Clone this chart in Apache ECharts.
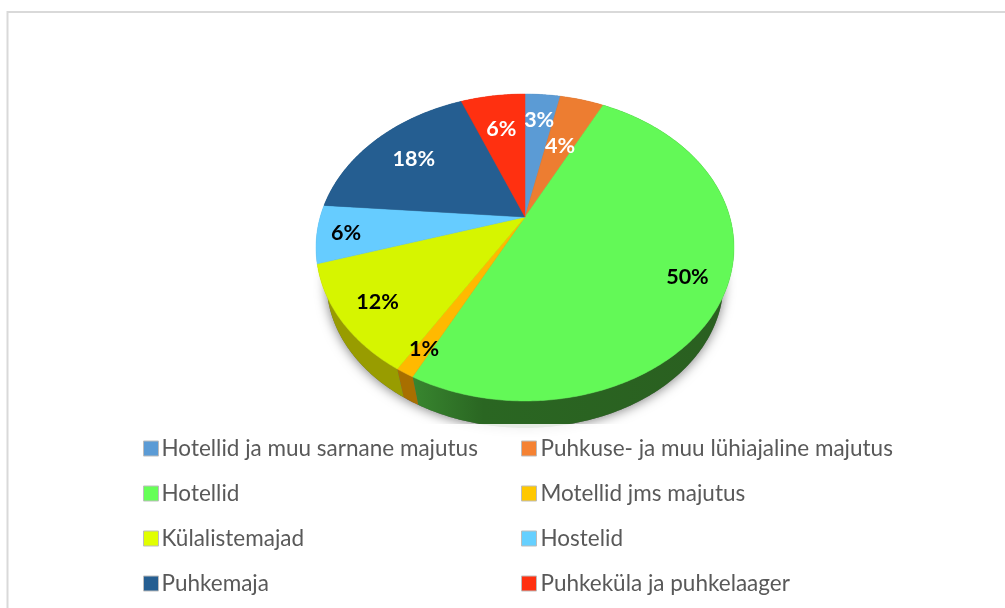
<!DOCTYPE html>
<html><head><meta charset="utf-8">
<style>html,body{margin:0;padding:0;background:#fff}#c{width:1005px;height:608px}</style>
<script src="https://cdn.jsdelivr.net/npm/echarts@6/dist/echarts.min.js"></script>
</head><body><div id="c"></div>
<script>
const categories = ['Hotellid ja muu sarnane majutus','Puhkuse- ja muu lühiajaline majutus','Hotellid','Motellid jms majutus','Külalistemajad','Hostelid','Puhkemaja','Puhkeküla ja puhkelaager'];
const shares = [3.3,4.1,50,1.2,11.5,6.1,17.7,6.0];
const faceColors = ['#5b9bd5','#ed7d31','#63f957','#ffb900','#d6f500','#66ccff','#255e91','#ff3010'];
const legendColors = ['#5b9bd5','#f58233','#66ff57','#ffc800','#e1ff00','#66d0ff','#255e91','#ff3010'];
const sideColors = ['#3c6d99','#a8581f','#2a6420','#a86f00','#989c00','#4a96ba','#1a4368','#b02008'];
const labelColors = ['#fff','#fff','#000','#000','#000','#000','#fff','#fff'];
const labelRadii = [.77,.575,.823,.864,.823,.862,.734,.70];

// perspective projection of the pie disc
const P = {x0:525,y0:217,a:147.4,b:204.8,k:.1987,depth:36,shrink:.95};
function proj(theta,r,lower){
  const u=Math.sin(theta)*r, v=Math.cos(theta)*r, w=1+P.k*v, s=lower?P.shrink:1;
  return [P.x0+s*P.b*u/w, P.y0+(lower?P.depth:0)-s*P.a*v/w];
}
function arc(t0,t1,lower){
  const n=Math.max(2,Math.ceil(Math.abs(t1-t0)/0.01)),pts=[];
  for(let i=0;i<=n;i++)pts.push(proj(t0+(t1-t0)*i/n,1,lower));
  return pts;
}
const total = shares.reduce((a,b)=>a+b,0);
let cum=0;
const series=[];
// shadow under the pie
series.push({type:'custom',coordinateSystem:'none',silent:true,z:1,data:[[0]],renderItem(){
  return {type:'polygon',shape:{points:arc(0,Math.PI*2,true)},
    style:{fill:'#666',shadowBlur:12,shadowColor:'rgba(0,0,0,.5)',shadowOffsetY:1}};
}});
shares.forEach((val,i)=>{
  const start=cum; cum+=val;
  series.push({type:'custom',name:categories[i],coordinateSystem:'none',silent:true,z:2,
    itemStyle:{color:legendColors[i]},
    data:[[start,val]],
    renderItem(p,api){
      const t0=api.value(0)/total*Math.PI*2, t1=(api.value(0)+api.value(1))/total*Math.PI*2;
      const top=arc(t0,t1,false), low=arc(t0,t1,true).reverse();
      const grad = i===2
        ? new echarts.graphic.LinearGradient(0,0,1,0,[{offset:0,color:'#38862f'},{offset:.22,color:'#2a6622'},{offset:1,color:'#2a5f20'}])
        : sideColors[i];
      return {type:'polygon',z2:0,shape:{points:top.concat(low)},style:{fill:grad}};
    }});
});
cum=0;
shares.forEach((val,i)=>{
  const start=cum; cum+=val;
  series.push({type:'custom',coordinateSystem:'none',silent:true,z:3,
    data:[[start,val]],
    renderItem(p,api){
      const t0=api.value(0)/total*Math.PI*2, t1=(api.value(0)+api.value(1))/total*Math.PI*2;
      return {type:'polygon',shape:{points:[[P.x0,P.y0]].concat(arc(t0,t1,false))},
        style:{fill:faceColors[i],stroke:faceColors[i],lineWidth:.5}};
    }});
});
cum=0;
shares.forEach((val,i)=>{
  const start=cum; cum+=val;
  series.push({type:'custom',coordinateSystem:'none',silent:true,z:6,
    data:[[start,val]],
    renderItem(p,api){
      const mid=(api.value(0)+api.value(1)/2)/total*Math.PI*2;
      const c=proj(mid,labelRadii[i],false);
      return {type:'text',x:c[0],y:c[1]+1.5,style:{text:Math.round(api.value(1))+'%',
        fill:labelColors[i],font:'bold 21.5px Lato, "Open Sans", sans-serif',align:'center',verticalAlign:'middle'}};
    }});
});
const legendBase={orient:'vertical',icon:'rect',itemWidth:15,itemHeight:15,itemGap:22,selectedMode:false,
  textStyle:{color:'#595959',fontFamily:'Lato',fontSize:22.5,padding:[0,0,0,-1]}};
const legendItems=(idx)=>idx.map(i=>({name:categories[i],itemStyle:{color:legendColors[i],borderColor:'#bdbdbd',borderWidth:1}}));
const chart=echarts.init(document.getElementById('c'),null,{renderer:'canvas'});
chart.setOption({
  animation:false,
  backgroundColor:'#fff',
  graphic:[
    {type:'rect',z:4,silent:true,shape:{x:0,y:424,width:1005,height:184},style:{fill:'rgba(255,255,255,.88)'}},
    {type:'polyline',z:5,silent:true,shape:{points:[[7.5,608],[7.5,12],[1005,12]]},style:{stroke:'#d9d9d9',lineWidth:2,fill:null}}
  ],
  legend:[
    Object.assign({},legendBase,{left:138,top:432,textStyle:Object.assign({},legendBase.textStyle,{padding:[0,0,0,-2]}),data:legendItems([0,2,4,6])}),
    Object.assign({},legendBase,{left:516,top:432,data:legendItems([1,3,5,7])})
  ],
  series
});
</script></body></html>
